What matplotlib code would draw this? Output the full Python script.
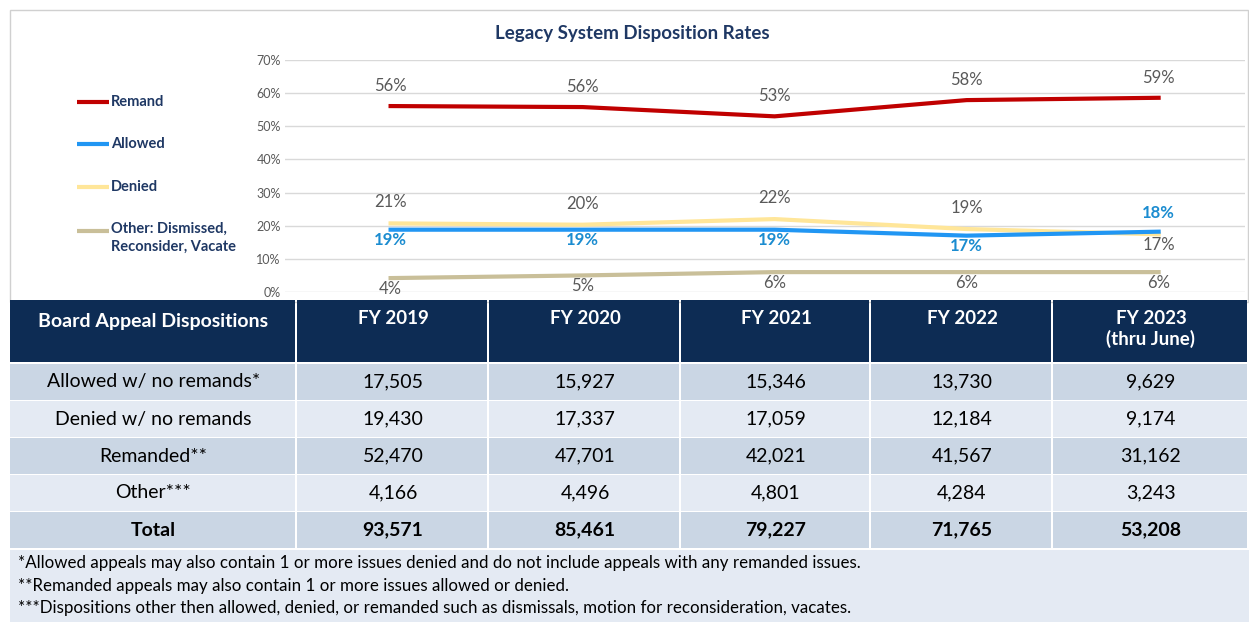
import matplotlib
matplotlib.use('Agg')
import matplotlib.pyplot as plt
from matplotlib.patches import Rectangle

plt.rcParams['font.family'] = ['Lato', 'DejaVu Sans']

# ---- data ----
years = ['FY 2019', 'FY 2020', 'FY 2021', 'FY 2022', 'FY 2023']
year_headers = ['FY 2019', 'FY 2020', 'FY 2021', 'FY 2022', 'FY 2023\n(thru June)']
remand = [56.1, 55.8, 53.0, 57.9, 58.6]
allowed = [18.8, 18.8, 18.8, 17.0, 18.2]
denied = [20.7, 20.3, 22.0, 19.0, 17.4]
other = [4.2, 5.0, 6.0, 6.0, 6.0]
series_names = ['Remand', 'Allowed', 'Denied', 'Other: Dismissed,\nReconsider, Vacate']
yticks = [0, 10, 20, 30, 40, 50, 60, 70]

row_labels = ['Allowed w/ no remands*', 'Denied w/ no remands', 'Remanded**', 'Other***', 'Total']
allowed_n = ['17,505', '15,927', '15,346', '13,730', '9,629']
denied_n = ['19,430', '17,337', '17,059', '12,184', '9,174']
remanded_n = ['52,470', '47,701', '42,021', '41,567', '31,162']
other_n = ['4,166', '4,496', '4,801', '4,284', '3,243']
total_n = ['93,571', '85,461', '79,227', '71,765', '53,208']
footnotes = ['*Allowed appeals may also contain 1 or more issues denied and do not include appeals with any remanded issues.',
             '**Remanded appeals may also contain 1 or more issues allowed or denied.',
             '***Dispositions other then allowed, denied, or remanded such as dismissals, motion for reconsideration, vacates.']

navy = '#1F3864'
W, H = 1249, 622
fig = plt.figure(figsize=(W / 100, H / 100), dpi=100)

# background axes in pixel coords
bg = fig.add_axes([0, 0, 1, 1])
bg.set_xlim(0, W)
bg.set_ylim(H, 0)
bg.axis('off')

bg.add_patch(Rectangle((10, 10), W - 11, 292, fill=False, ec='#D0D0D0', lw=1))
bg.text(632, 34, 'Legacy System Disposition Rates', ha='center', va='center',
        fontsize=13.5, fontweight='bold', color=navy)

# legend
colors = ['#C00000', '#2196F3', '#FFE699', '#C9BF99']
leg_y = [102, 144, 187, 231]
for c, yy, name in zip(colors, leg_y, series_names):
    bg.plot([77, 109], [yy, yy], color=c, lw=3, solid_capstyle='butt')
    if '\n' in name:
        bg.text(111, yy - 9, name, ha='left', va='top', fontsize=10.5,
                fontweight='bold', color=navy, linespacing=1.3)
    else:
        bg.text(111, yy, name, ha='left', va='center', fontsize=10.5,
                fontweight='bold', color=navy)

# line chart
ax = fig.add_axes([285 / W, (H - 292) / H, (1245 - 285) / W, (292 - 60) / H])
x = list(range(len(years)))
ax.set_xlim(-0.55, 4.45)
ax.set_ylim(0, 70)
ax.set_yticks(yticks)
ax.set_yticklabels([f'{t}%' for t in yticks], fontsize=9, color='#595959')
ax.set_xticks([])
ax.grid(axis='y', color='#D9D9D9', lw=1)
ax.tick_params(axis='y', length=0, pad=3)
for s in ax.spines.values():
    s.set_visible(False)
ax.patch.set_alpha(0)

ax.plot(x, other, color=colors[3], lw=3)
ax.plot(x, denied, color=colors[2], lw=3)
ax.plot(x, allowed, color=colors[1], lw=3)
ax.plot(x, remand, color=colors[0], lw=3)

gray = '#595959'
blue_lbl = '#1B8CD0'
for i in x:
    ax.annotate(f'{remand[i]:.0f}%', (i, remand[i]), xytext=(0, 20), textcoords='offset pixels',
                ha='center', va='center', fontsize=12, color=gray)
    dy = 21 if i < 4 else -11
    ax.annotate(f'{denied[i]:.0f}%', (i, denied[i]), xytext=(0, dy), textcoords='offset pixels',
                ha='center', va='center', fontsize=12, color=gray)
    dy = -10 if i < 4 else 19
    ax.annotate(f'{allowed[i]:.0f}%', (i, allowed[i]), xytext=(0, dy), textcoords='offset pixels',
                ha='center', va='center', fontsize=12, color=blue_lbl, fontweight='bold')
    ax.annotate(f'{other[i]:.0f}%', (i, other[i]), xytext=(0, -11), textcoords='offset pixels',
                ha='center', va='center', fontsize=12, color=gray)

# table
col_x = [10, 297, 489, 681, 871, 1053, 1249]
header_top, header_bot = 300, 362
row_tops = [364, 401, 438, 475, 512]
row_h = 36
dark_row, light_row = '#CAD6E4', '#E4EAF3'

for j in range(len(col_x) - 1):
    bg.add_patch(Rectangle((col_x[j], header_top), col_x[j + 1] - col_x[j] - 2,
                           header_bot - header_top, color='#0D2C54', lw=0))
bg.text((col_x[0] + col_x[1]) / 2, 321, 'Board Appeal Dispositions', ha='center', va='center',
        fontsize=14, fontweight='bold', color='white')
for j, hdr in enumerate(year_headers):
    bg.text((col_x[j + 1] + col_x[j + 2]) / 2, 310, hdr, ha='center', va='top',
            fontsize=13.5, fontweight='bold', color='white', linespacing=1.2)

table_rows = [allowed_n, denied_n, remanded_n, other_n, total_n]
for r, (lbl, vals) in enumerate(zip(row_labels, table_rows)):
    top = row_tops[r]
    fc = dark_row if r % 2 == 0 else light_row
    bold = 'bold' if lbl == 'Total' else 'normal'
    for j in range(len(col_x) - 1):
        bg.add_patch(Rectangle((col_x[j], top), col_x[j + 1] - col_x[j] - 2, row_h, color=fc, lw=0))
    cy = top + row_h / 2
    bg.text((col_x[0] + col_x[1]) / 2, cy, lbl, ha='center', va='center', fontsize=14,
            color='black', fontweight=bold)
    for j, v in enumerate(vals):
        bg.text((col_x[j + 1] + col_x[j + 2]) / 2, cy, v, ha='center', va='center', fontsize=14,
                color='black', fontweight=bold)

bg.add_patch(Rectangle((10, 550), W - 10, H - 550, color='#E4EAF3', lw=0))
for k, note in enumerate(footnotes):
    bg.text(18, 563 + 22.5 * k, note, ha='left', va='center', fontsize=12.2, color='black')

fig.savefig('out.png', dpi=100)
